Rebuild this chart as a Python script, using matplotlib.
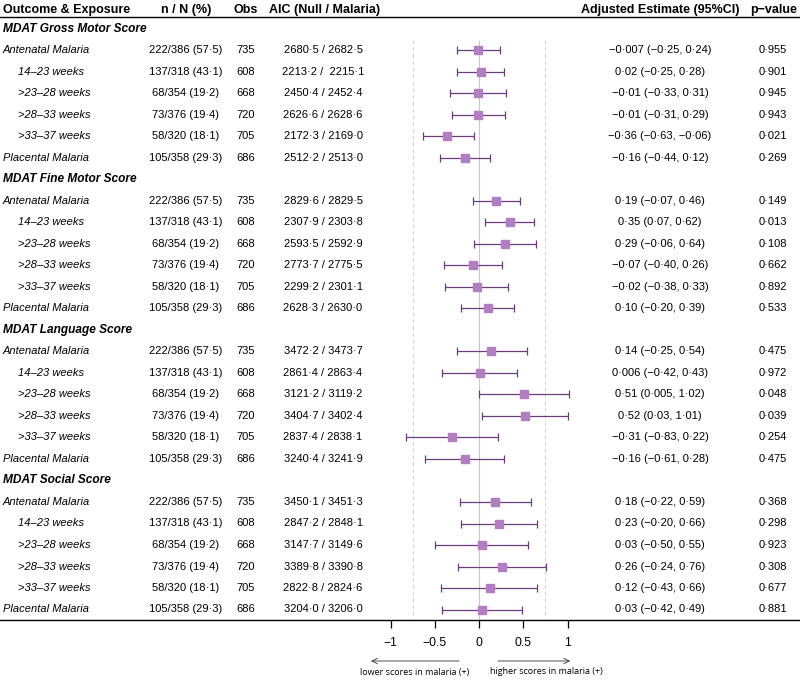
import numpy as np
import matplotlib
matplotlib.use("Agg")
import matplotlib.pyplot as plt
from matplotlib import transforms

plt.rcParams['font.family'] = ['Liberation Sans', 'DejaVu Sans']

outcomes = ["MDAT Gross Motor Score", "MDAT Fine Motor Score",
            "MDAT Language Score", "MDAT Social Score"]
exposures = ["Antenatal Malaria", "14–23 weeks", ">23–28 weeks",
             ">28–33 weeks", ">33–37 weeks", "Placental Malaria"]
n_of_N = ["222/386 (57·5)", "137/318 (43·1)", "68/354 (19·2)",
          "73/376 (19·4)", "58/320 (18·1)", "105/358 (29·3)"]
obs = ["735", "608", "668", "720", "705", "686"]

aic = [
    ["2680·5 / 2682·5", "2213·2 /  2215·1", "2450·4 / 2452·4",
     "2626·6 / 2628·6", "2172·3 / 2169·0", "2512·2 / 2513·0"],
    ["2829·6 / 2829·5", "2307·9 / 2303·8", "2593·5 / 2592·9",
     "2773·7 / 2775·5", "2299·2 / 2301·1", "2628·3 / 2630·0"],
    ["3472·2 / 3473·7", "2861·4 / 2863·4", "3121·2 / 3119·2",
     "3404·7 / 3402·4", "2837·4 / 2838·1", "3240·4 / 3241·9"],
    ["3450·1 / 3451·3", "2847·2 / 2848·1", "3147·7 / 3149·6",
     "3389·8 / 3390·8", "2822·8 / 2824·6", "3204·0 / 3206·0"],
]

est = [
    [-0.007, 0.02, -0.01, -0.01, -0.36, -0.16],
    [0.19, 0.35, 0.29, -0.07, -0.02, 0.10],
    [0.14, 0.006, 0.51, 0.52, -0.31, -0.16],
    [0.18, 0.23, 0.03, 0.26, 0.12, 0.03],
]
lo = [
    [-0.25, -0.25, -0.33, -0.31, -0.63, -0.44],
    [-0.07, 0.07, -0.06, -0.40, -0.38, -0.20],
    [-0.25, -0.42, 0.005, 0.03, -0.83, -0.61],
    [-0.22, -0.20, -0.50, -0.24, -0.43, -0.42],
]
hi = [
    [0.24, 0.28, 0.31, 0.29, -0.06, 0.12],
    [0.46, 0.62, 0.64, 0.26, 0.33, 0.39],
    [0.54, 0.43, 1.02, 1.01, 0.22, 0.28],
    [0.59, 0.66, 0.55, 0.76, 0.66, 0.49],
]
est_text = [
    ["−0·007 (−0·25, 0·24)", "0·02 (−0·25, 0·28)", "−0·01 (−0·33, 0·31)",
     "−0·01 (−0·31, 0·29)", "−0·36 (−0·63, −0·06)", "−0·16 (−0·44, 0·12)"],
    ["0·19 (−0·07, 0·46)", "0·35 (0·07, 0·62)", "0·29 (−0·06, 0·64)",
     "−0·07 (−0·40, 0·26)", "−0·02 (−0·38, 0·33)", "0·10 (−0·20, 0·39)"],
    ["0·14 (−0·25, 0·54)", "0·006 (−0·42, 0·43)", "0·51 (0·005, 1·02)",
     "0·52 (0·03, 1·01)", "−0·31 (−0·83, 0·22)", "−0·16 (−0·61, 0·28)"],
    ["0·18 (−0·22, 0·59)", "0·23 (−0·20, 0·66)", "0·03 (−0·50, 0·55)",
     "0·26 (−0·24, 0·76)", "0·12 (−0·43, 0·66)", "0·03 (−0·42, 0·49)"],
]
pvals = [
    ["0·955", "0·901", "0·945", "0·943", "0·021", "0·269"],
    ["0·149", "0·013", "0·108", "0·662", "0·892", "0·533"],
    ["0·475", "0·972", "0·048", "0·039", "0·254", "0·475"],
    ["0·368", "0·298", "0·923", "0·308", "0·677", "0·881"],
]

ticks = [-1, -0.5, 0, 0.5, 1]
tick_labels = ["−1", "−0.5", "0", "0.5", "1"]

line_col = "#6b3d7b"
box_col = "#b47cc2"

fig = plt.figure(figsize=(8, 6.8), dpi=100)
ax = fig.add_axes([0, 60 / 680, 1, 620 / 680])
# x: 0 sits at 479 px, one unit = 88.5 px ; y: one row = 21.5 px
ax.set_xlim(-479 / 88.5, (800 - 479) / 88.5)
ax.set_ylim(591 / 21.5, -29 / 21.5)
for s in ["top", "left", "right"]:
    ax.spines[s].set_visible(False)
ax.spines["bottom"].set_linewidth(1.0)
ax.set_yticks([])
ax.set_xticks(ticks)
ax.set_xticklabels(tick_labels, fontsize=8.8)
ax.tick_params(axis="x", direction="out", length=6, width=0.9, pad=6)

tr = transforms.blended_transform_factory(ax.transAxes, ax.transData)

# header
hy = -19 / 21.5
hkw = dict(fontsize=9, fontweight="bold", va="center", transform=tr)
ax.text(3 / 800, hy, "Outcome & Exposure", ha="left", **hkw)
ax.text(186 / 800, hy, "n / N (%)", ha="center", **hkw)
ax.text(246 / 800, hy, "Obs", ha="center", **hkw)
ax.text(325 / 800, hy, "AIC (Null / Malaria)", ha="center", **hkw)
ax.text(660 / 800, hy, "Adjusted Estimate (95%CI)", ha="center", **hkw)
ax.text(774 / 800, hy, "p−value", ha="center", **hkw)
ax.axhline(-11.5 / 21.5, color="black", lw=1.0)

# reference lines
ax.vlines(0, 0.5, ax.get_ylim()[0], color="#c8c8c8", lw=0.8, zorder=1)
ax.vlines([-0.75, 0.75], 0.5, ax.get_ylim()[0], color="#d2d2d2", lw=0.7,
          linestyles=(0, (4, 3)), zorder=1)

tkw = dict(fontsize=8, va="center", transform=tr)
row = 0
for g, outcome in enumerate(outcomes):
    ax.text(3 / 800, row, outcome, ha="left", fontsize=8.6,
            fontweight="bold", style="italic", va="center", transform=tr)
    row += 1
    for i, expo in enumerate(exposures):
        indent = 3 if i in (0, 5) else 18
        ax.text(indent / 800, row, expo, ha="left", style="italic", **tkw)
        ax.text(186 / 800, row, n_of_N[i], ha="center", **tkw)
        ax.text(246 / 800, row, obs[i], ha="center", **tkw)
        ax.text(323 / 800, row, aic[g][i], ha="center", **tkw)
        ax.text(660 / 800, row, est_text[g][i], ha="center", **tkw)
        ax.text(773 / 800, row, pvals[g][i], ha="center", **tkw)
        e = est[g][i]
        ax.errorbar(e, row, xerr=[[e - lo[g][i]], [hi[g][i] - e]],
                    fmt="none", ecolor=line_col, elinewidth=0.9,
                    capsize=3.2, capthick=0.9, zorder=2)
        ax.plot(e, row, marker="s", markersize=5.6, color=box_col,
                zorder=3)
        row += 1

# direction arrows under the axis
atr = transforms.blended_transform_factory(ax.transData, ax.transAxes)
ay = -41 / 620
aprops = dict(arrowstyle="->", lw=0.6, color="#333333", shrinkA=0, shrinkB=0)
ax.annotate("", xy=(-1.22, ay), xytext=(-0.226, ay), xycoords=atr,
            textcoords=atr, arrowprops=aprops)
ax.annotate("", xy=(1.03, ay), xytext=(0.215, ay), xycoords=atr,
            textcoords=atr, arrowprops=aprops)
ax.text(-0.73, -52 / 620, "lower scores in malaria (+)", transform=atr,
        ha="center", va="center", fontsize=6.5, family="Open Sans")
ax.text(0.76, -52 / 620, "higher scores in malaria (+)", transform=atr,
        ha="center", va="center", fontsize=6.5, family="Open Sans")

fig.savefig("out.png", dpi=100)
